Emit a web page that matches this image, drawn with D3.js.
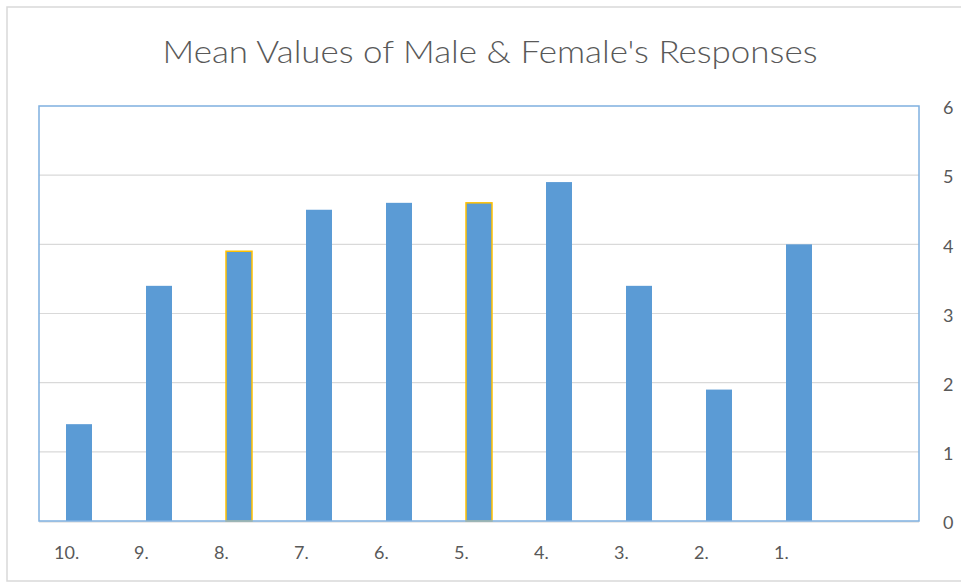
<!DOCTYPE html>
<html>
<head>
<meta charset="utf-8">
<script src="https://cdn.jsdelivr.net/npm/d3@7"></script>
<style>
  body { margin: 0; background: #fff; }
  svg { display: block; }
</style>
</head>
<body>
<svg id="chart" width="961" height="583"></svg>
<script>
// data
const categories = ["10.", "9.", "8.", "7.", "6.", "5.", "4.", "3.", "2.", "1.", ""]
const meanValues = [1.4, 3.4, 3.9, 4.5, 4.6, 4.6, 4.9, 3.4, 1.9, 4.0, null]
const outlined = ["8.", "5."]   // these two bars carry a gold outline
const yTicks = [0, 1, 2, 3, 4, 5, 6]
const title = "Mean Values of Male & Female's Responses"

const svg = d3.select("#chart")
const plot = {left: 39, top: 106, right: 919, bottom: 521}
const FONT = "Lato, 'Open Sans', sans-serif"

// outer chart border
svg.append("rect")
  .attr("x", 7).attr("y", 7)
  .attr("width", 970).attr("height", 574)
  .attr("fill", "#fff")
  .attr("stroke", "#d9d9d9").attr("stroke-width", 1.5)

svg.append("text")
  .attr("x", 490).attr("y", 63)
  .attr("text-anchor", "middle")
  .attr("font-family", FONT)
  .attr("font-weight", 300)
  .attr("font-size", "32px")
  .attr("fill", "#595959")
  .attr("textLength", 655)
  .attr("lengthAdjust", "spacingAndGlyphs")
  .text(title)

const x = d3.scaleBand()
  .domain(categories.map((d, i) => i))
  .range([plot.left, plot.right])
  .paddingInner(0.675).paddingOuter(0.3375)

const y = d3.scaleLinear().domain([0, 6]).range([plot.bottom, plot.top])

// gridlines
svg.append("g")
  .selectAll("line")
  .data(yTicks.filter(t => t > 0 && t < 6))
  .join("line")
  .attr("x1", plot.left).attr("x2", plot.right)
  .attr("y1", d => y(d)).attr("y2", d => y(d))
  .attr("stroke", "#d9d9d9").attr("stroke-width", 1.2)

// baseline shadow
svg.append("line")
  .attr("x1", plot.left).attr("x2", plot.right)
  .attr("y1", y(0) + 1).attr("y2", y(0) + 1)
  .attr("stroke", "#e3e3e3").attr("stroke-width", 1.5)

// bars
const bw = 26
svg.append("g")
  .selectAll("rect")
  .data(categories.map((c, i) => ({c, i, v: meanValues[i]})).filter(d => d.v != null))
  .join("rect")
  .attr("x", d => x(d.i) + x.bandwidth() / 2 - bw / 2)
  .attr("y", d => y(d.v))
  .attr("width", bw)
  .attr("height", d => y(0) - y(d.v))
  .attr("fill", "#5b9bd5")
  .attr("stroke", d => outlined.includes(d.c) ? "#ffc000" : "none")
  .attr("stroke-width", 1.5)

// plot frame
svg.append("rect")
  .attr("x", plot.left).attr("y", plot.top)
  .attr("width", plot.right - plot.left).attr("height", plot.bottom - plot.top)
  .attr("fill", "none")
  .attr("stroke", "#7fb0e0").attr("stroke-width", 1.5)

// right axis labels
const yAxis = d3.axisRight(y).tickValues(yTicks).tickFormat(d3.format("d")).tickSize(0).tickPadding(24)
const ga = svg.append("g")
  .attr("transform", `translate(${plot.right},2)`)
  .call(yAxis)
ga.select(".domain").remove()
ga.selectAll("text")
  .attr("font-family", FONT)
  .attr("font-size", "18px")
  .attr("fill", "#595959")

// category labels, left-aligned a little before each bar
svg.append("g")
  .selectAll("text")
  .data(categories.map((c, i) => ({c, i})))
  .join("text")
  .attr("x", d => x(d.i) + x.bandwidth() / 2 - 25)
  .attr("y", 559)
  .attr("font-family", FONT)
  .attr("font-size", "18px")
  .attr("fill", "#595959")
  .text(d => d.c)
</script>
</body>
</html>
